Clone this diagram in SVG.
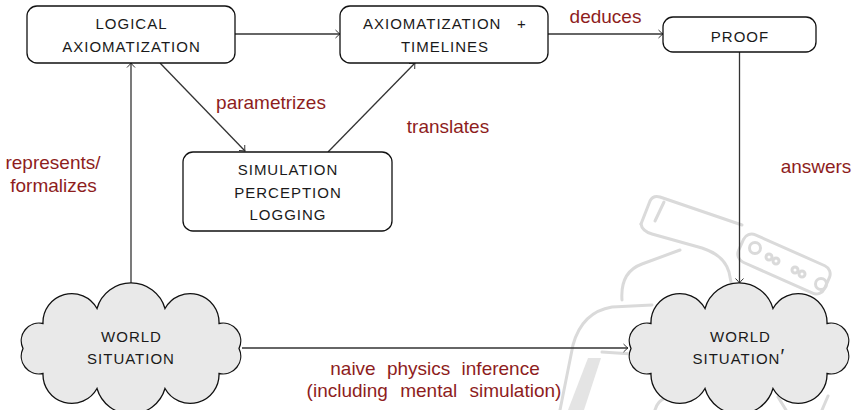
<svg xmlns="http://www.w3.org/2000/svg" width="853" height="410" viewBox="0 0 853 410">
  <style>
    .node { fill: #ffffff; stroke: #111111; stroke-width: 1.3; }
    .cloud { fill: #e9e9e9; stroke: #111111; stroke-width: 1.3; }
    .ntext { font-family: "Liberation Sans", Arial, sans-serif; font-size: 15px; letter-spacing: 1px; fill: #1a1a1a; text-anchor: middle; }
    .label { font-family: "Liberation Sans", Arial, sans-serif; font-size: 19px; fill: #8e1d1d; text-anchor: middle; }
    .edge { fill: none; stroke: #333333; stroke-width: 1.3; marker-end: url(#arrow); }
    .wm { fill: none; stroke: #dadada; stroke-width: 3; stroke-linecap: round; stroke-linejoin: round; }
  </style>
  <defs>
    <marker id="arrow" viewBox="-6 -5 8 10" refX="0" refY="0" markerWidth="8" markerHeight="10" markerUnits="userSpaceOnUse" orient="auto">
      <path d="M -4.5,-4 Q -1.5,-1 0,0 Q -1.5,1 -4.5,4" fill="none" stroke="#333333" stroke-width="1"/>
    </marker>
    <!-- ten-puff cloud outline centred on the origin -->
    <path id="cloudShape" d="M -108,0 A 17.8 17.8 0 0 1 -88,-25 A 28.8 28.8 0 0 1 -34,-40 A 35.4 35.4 0 0 1 34,-40 A 28.8 28.8 0 0 1 88,-25 A 17.8 17.8 0 0 1 108,0 A 17.8 17.8 0 0 1 88,25 A 28.8 28.8 0 0 1 34,40 A 35.4 35.4 0 0 1 -34,40 A 28.8 28.8 0 0 1 -88,25 A 17.8 17.8 0 0 1 -108,0 Z"/>
  </defs>

  <rect width="853" height="410" fill="#ffffff"/>

  <!-- faint robot head drawn in the background -->
  <g id="robot">
    <path class="wm" d="M 641,224 L 650,201 Q 653,195 660,197 L 742,225"/>
    <path class="wm" d="M 664,202 L 655,221"/>
    <path class="wm" d="M 641,224 Q 642,231 652,234 L 702,248 Q 724,255 729,272 L 733,292"/>
    <rect class="wm" x="-47" y="-15" width="94" height="30" rx="9" transform="translate(784,264) rotate(24)"/>
    <circle class="wm" cx="755" cy="248" r="5.5"/>
    <circle class="wm" cx="769" cy="257" r="3" stroke-width="2"/>
    <circle class="wm" cx="776" cy="261" r="3" stroke-width="2"/>
    <circle class="wm" cx="795" cy="270" r="3" stroke-width="2"/>
    <circle class="wm" cx="802" cy="274" r="3" stroke-width="2"/>
    <circle class="wm" cx="821" cy="284" r="5.5"/>
    <path class="wm" d="M 622,300 Q 620,272 642,264 L 680,250"/>
    <path class="wm" d="M 560,410 L 573,345 Q 582,312 612,307 L 652,305"/>
    <path class="wm" d="M 602,352 L 632,354"/>
    <path d="M 588,358 L 601,358 L 584,410 L 568,410 Z" fill="#e4e4e4"/>
    <path class="wm" d="M 707,390 L 722,410"/>
    <path class="wm" d="M 778,397 L 786,410"/>
    <path class="wm" d="M 828,396 L 822,410"/>
    <path class="wm" d="M 655,410 Q 658,400 666,398"/>
  </g>

  <g id="connectors">
    <path class="edge" d="M 235,34 L 340,34"/>
    <path class="edge" d="M 548,34 L 663,34"/>
    <path class="edge" d="M 160,63 L 245,151"/>
    <path class="edge" d="M 328,152 L 415,63"/>
    <path class="edge" d="M 131,283 L 131,63"/>
    <path class="edge" d="M 739.5,52 L 739.5,283"/>
    <path class="edge" d="M 242,348 L 628,348"/>
  </g>

  <g id="edge-labels">
    <text class="label" x="605.5" y="22.5">deduces</text>
    <text class="label" x="271" y="109">parametrizes</text>
    <text class="label" x="448" y="132.5">translates</text>
    <text class="label" x="53" y="169">represents/</text>
    <text class="label" x="53.5" y="191.5">formalizes</text>
    <text class="label" x="816" y="173">answers</text>
    <text class="label" x="435" y="375" word-spacing="6">naive physics inference</text>
    <text class="label" x="434" y="396.5" word-spacing="7">(including mental simulation)</text>
  </g>

  <g id="logical-axiomatization">
    <rect class="node" x="27" y="6" width="208" height="57" rx="10"/>
    <text class="ntext" x="131.5" y="29">LOGICAL</text>
    <text class="ntext" x="131.5" y="52">AXIOMATIZATION</text>
  </g>

  <g id="axiomatization-timelines">
    <rect class="node" x="340" y="6" width="208" height="57" rx="10"/>
    <text class="ntext" style="text-anchor:start" x="363" y="29">AXIOMATIZATION<tspan x="517">+</tspan></text>
    <text class="ntext" x="445" y="52">TIMELINES</text>
  </g>

  <g id="proof">
    <rect class="node" x="663" y="17" width="153" height="35" rx="10"/>
    <text class="ntext" x="740" y="41.5">PROOF</text>
  </g>

  <g id="simulation">
    <rect class="node" x="183" y="152" width="209" height="79" rx="10"/>
    <text class="ntext" x="288" y="175">SIMULATION</text>
    <text class="ntext" x="288" y="197.5">PERCEPTION</text>
    <text class="ntext" x="288" y="219.5">LOGGING</text>
  </g>

  <g id="world-situation">
    <use href="#cloudShape" class="cloud" transform="translate(131,348.5)"/>
    <text class="ntext" x="131.5" y="341.5">WORLD</text>
    <text class="ntext" x="131" y="364">SITUATION</text>
  </g>

  <g id="world-situation-prime">
    <use href="#cloudShape" class="cloud" transform="translate(739,348.5)"/>
    <text class="ntext" x="740.5" y="341.5">WORLD</text>
    <text class="ntext" style="text-anchor:start" x="692.5" y="364">SITUATION<tspan font-size="20" dy="-1">′</tspan></text>
  </g>
</svg>
